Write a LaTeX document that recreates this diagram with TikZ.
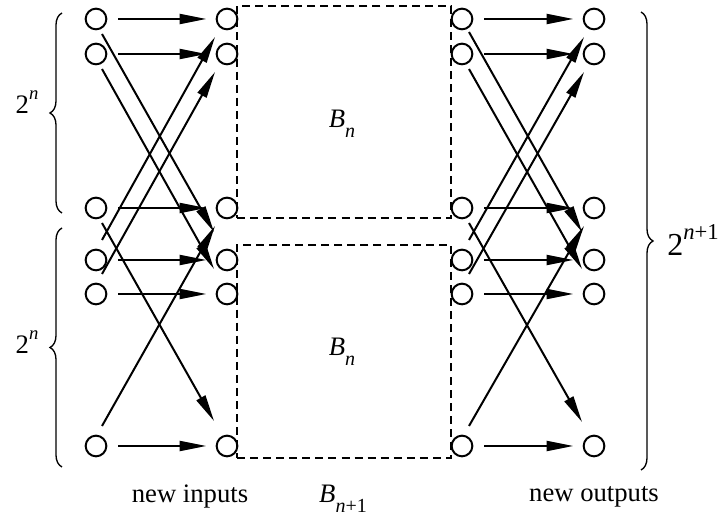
\documentclass[tikz,border=0pt]{standalone}
\usepackage{fontspec}
\setmainfont{Liberation Serif}
\usetikzlibrary{arrows.meta, calc, decorations.pathreplacing}
\newcommand{\lowidx}[1]{\raisebox{-0.38em}{\fontsize{15}{17}\selectfont #1}}
\newcommand{\highidx}[1]{\raisebox{0.5em}{\fontsize{14}{16}\selectfont #1}}
\newcommand{\bighighidx}[1]{\raisebox{0.5em}{\fontsize{17}{19}\selectfont #1}}

\begin{document}
\begin{tikzpicture}[
    x=0.75pt, y=-0.75pt,
    dot/.style={draw, circle, line width=1.5pt, minimum size=15.5pt, inner sep=0pt},
    arr/.style={-{Triangle[length=20pt, width=7.5pt]}, line width=1.5pt},
    hor/.style={arr, shorten <=8pt, shorten >=7pt},
    blk/.style={draw, dash pattern=on 6pt off 3.8pt, line width=1.3pt, minimum width=160.5pt, inner sep=0pt},
    brc/.style={decorate, decoration={brace, amplitude=9pt}, line width=1pt},
    lbl/.style={font=\fontsize{20}{24}\selectfont}
]
\useasboundingbox (0,0) rectangle (726,520);

% the two copies of B_n
\node[blk, minimum height=159pt] (upper) at (344,112) {};
\node[blk, minimum height=159.75pt] (lower) at (344,351.5) {};
\node[lbl] (un) at (342,124) {\textit{B}\lowidx{\textit{n}}};
\node[lbl] (ln) at (342,352) {\textit{B}\lowidx{\textit{n}}};

% new inputs
\node[dot] (in1) at (96,19) {};
\node[dot] (in2) at (96,54) {};
\node[dot] (in3) at (96,208) {};
\node[dot] (in4) at (96,260) {};
\node[dot] (in5) at (96,294) {};
\node[dot] (in6) at (96,446) {};
% inputs of the B_n
\node[dot] (a1) at (227,19) {};
\node[dot] (a2) at (227,54) {};
\node[dot] (a3) at (227,208) {};
\node[dot] (a4) at (227,260) {};
\node[dot] (a5) at (227,294) {};
\node[dot] (a6) at (227,446) {};
% outputs of the B_n
\node[dot] (b1) at (462,19) {};
\node[dot] (b2) at (462,54) {};
\node[dot] (b3) at (462,208) {};
\node[dot] (b4) at (462,260) {};
\node[dot] (b5) at (462,294) {};
\node[dot] (b6) at (462,446) {};
% new outputs
\node[dot] (out1) at (594,19) {};
\node[dot] (out2) at (594,54) {};
\node[dot] (out3) at (594,208) {};
\node[dot] (out4) at (594,260) {};
\node[dot] (out5) at (594,294) {};
\node[dot] (out6) at (594,446) {};

% straight connections
\draw[hor] (in1) -- (a1);
\draw[hor] (in2) -- (a2);
\draw[hor] (in3) -- (a3);
\draw[hor] (in4) -- (a4);
\draw[hor] (in5) -- (a5);
\draw[hor] (in6) -- (a6);
\draw[hor] (b1) -- (out1);
\draw[hor] (b2) -- (out2);
\draw[hor] (b3) -- (out3);
\draw[hor] (b4) -- (out4);
\draw[hor] (b5) -- (out5);
\draw[hor] (b6) -- (out6);

% crossed connections
\draw[arr] ($(in1)+(6,15)$) -- ($(a4)+(-13,-28)$);
\draw[arr] ($(in2)+(6,15)$) -- ($(a5)+(-13,-25)$);
\draw[arr] ($(in3)+(6,15)$) -- ($(a6)+(-13,-25)$);
\draw[arr] ($(in4)+(6,-20)$) -- ($(a1)+(-12,18)$);
\draw[arr] ($(in5)+(6,-20)$) -- ($(a2)+(-12,18)$);
\draw[arr] ($(in6)+(6,-20)$) -- ($(a3)+(-12,18)$);
\draw[arr] ($(b1)+(7,13)$) -- ($(out4)+(-12,-28)$);
\draw[arr] ($(b2)+(7,15)$) -- ($(out5)+(-12,-25)$);
\draw[arr] ($(b3)+(7,15)$) -- ($(out6)+(-12,-24)$);
\draw[arr] ($(b4)+(7,-20)$) -- ($(out1)+(-10,18)$);
\draw[arr] ($(b5)+(7,-20)$) -- ($(out2)+(-10,18)$);
\draw[arr] ($(b6)+(7,-20)$) -- ($(out3)+(-10,18)$);

% braces
\draw[brc] (62,213) -- (62,13);
\draw[brc] (62,467) -- (62,228);
\draw[brc] (641,12) -- (641,470);
\node[lbl] (top) at (27,102) {2\highidx{\textit{n}}};
\node[lbl] (bot) at (27,342) {2\highidx{\textit{n}}};
\node[font=\fontsize{24}{28}\selectfont] (all) at (693,240) {2\bighighidx{\textit{n}+1}};

% captions
\node[lbl] (nin) at (190,497) {new inputs};
\node[lbl] (bn1) at (343,499) {\textit{B}\lowidx{\textit{n}+1}};
\node[lbl] (nout) at (594,497) {new outputs};
\end{tikzpicture}
\end{document}
